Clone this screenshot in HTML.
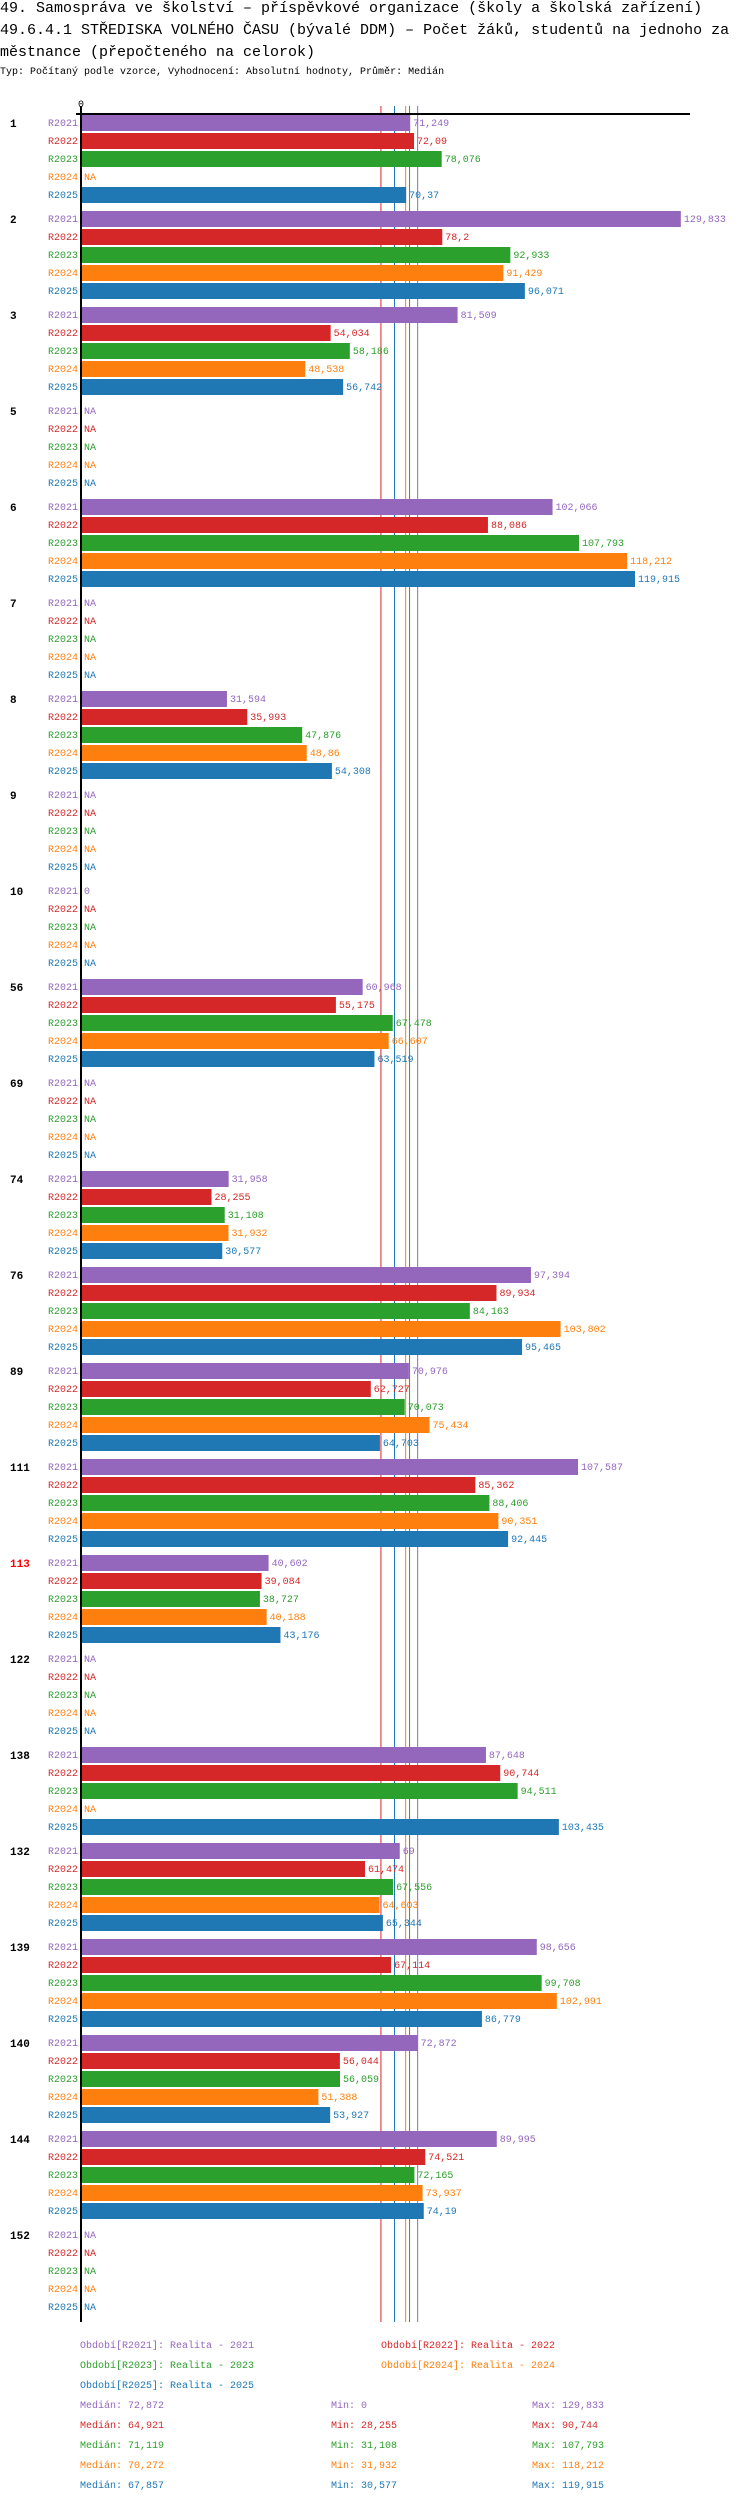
<!DOCTYPE html>
<html><head><meta charset="utf-8">
<style>
body{margin:0;background:#fff;width:750px;height:2502px;overflow:hidden;font-family:"Liberation Mono","DejaVu Sans Mono",monospace;}
.t{position:absolute;left:0;font-size:15px;color:#000;white-space:nowrap;}
.s{position:absolute;left:0;font-size:10px;color:#000;white-space:nowrap;}
svg{position:absolute;left:0;top:0}
</style></head><body>
<div class="t" style="top:0px">49. Samospráva ve školství – příspěvkové organizace (školy a školská zařízení)</div>
<div class="t" style="top:22px">49.6.4.1 STŘEDISKA VOLNÉHO ČASU (bývalé DDM) – Počet žáků, studentů na jednoho za</div>
<div class="t" style="top:44px">městnance (přepočteného na celorok)</div>
<div class="s" style="top:67px">Typ: Počítaný podle vzorce, Vyhodnocení: Absolutní hodnoty, Průměr: Medián</div>
<svg id="chart" width="750" height="2502" font-family="Liberation Mono, DejaVu Sans Mono, monospace"></svg>
<script>
const categories=["1","2","3","5","6","7","8","9","10","56","69","74","76","89","111","113","122","138","132","139","140","144","152"];
const series=["R2021","R2022","R2023","R2024","R2025"];
const colors=["#9467bd","#d62728","#2ca02c","#ff7f0e","#1f77b4"];
const r2021=[71.249,129.833,81.509,null,102.066,null,31.594,null,0,60.968,null,31.958,97.394,70.976,107.587,40.602,null,87.648,69,98.656,72.872,89.995,null];
const r2022=[72.09,78.2,54.034,null,88.086,null,35.993,null,null,55.175,null,28.255,89.934,62.727,85.362,39.084,null,90.744,61.474,67.114,56.044,74.521,null];
const r2023=[78.076,92.933,58.186,null,107.793,null,47.876,null,null,67.478,null,31.108,84.163,70.073,88.406,38.727,null,94.511,67.556,99.708,56.059,72.165,null];
const r2024=[null,91.429,48.538,null,118.212,null,48.86,null,null,66.607,null,31.932,103.802,75.434,90.351,40.188,null,null,64.603,102.991,51.388,73.937,null];
const r2025=[70.37,96.071,56.742,null,119.915,null,54.308,null,null,63.519,null,30.577,95.465,64.703,92.445,43.176,null,103.435,65.344,86.779,53.927,74.19,null];
const medians=[72.872,64.921,71.119,70.272,67.857];
const mins=[0,28.255,31.108,31.932,30.577];
const maxs=[129.833,90.744,107.793,118.212,119.915];
const highlight="113";
const values=[r2021,r2022,r2023,r2024,r2025];
const NS="http://www.w3.org/2000/svg";
const svg=document.getElementById('chart');
const X0=81,SCALE=4.62,TOP=114,GROUP=96,ROW=18;
const x=v=>X0+v*SCALE;
const gy=g=>TOP+g*GROUP;
const fmt=v=>String(v).replace('.',',');
function mk(tag,attrs,parent){const e=document.createElementNS(NS,tag);for(const k in attrs)e.setAttribute(k,attrs[k]);(parent||svg).appendChild(e);return e;}
function txt(str,attrs){const e=mk('text',attrs);e.textContent=str;return e;}
const endY=gy(categories.length-1)+5*ROW+6;
let e;
medians.forEach((m,i)=>{
  e=mk('line',{x1:x(m),y1:106,x2:x(m),y2:endY,stroke:colors[i],'stroke-width':1});
  
  
});
e=mk('line',{x1:76,y1:TOP,x2:690,y2:TOP,stroke:'#000','stroke-width':2});


e=mk('line',{x1:X0,y1:106,x2:X0,y2:endY,stroke:'#000','stroke-width':2});


e=txt('0',{x:X0,y:107,'font-size':10,'text-anchor':'middle',fill:'#000'});


categories.forEach((c,g)=>{
  const top=gy(g);
  e=txt(c,{x:10,y:top+13,'font-size':11,'font-weight':'bold',fill:c===highlight?'#ff0000':'#000'});
  
  
  series.forEach((s,i)=>{
    const ry=top+i*ROW;
    e=txt(s,{x:78,y:ry+12,'font-size':10,'text-anchor':'end',fill:colors[i]});
    
    
    const v=values[i][g];
    if(v===null){
      e=txt('NA',{x:84,y:ry+12,'font-size':10,fill:colors[i]});
      
      
    }else{
      e=mk('rect',{x:X0+1,y:ry+1,width:Math.max(0,x(v)-X0-1),height:16,fill:colors[i]});
      
      
      e=txt(fmt(v),{x:x(v)+3,y:ry+12,'font-size':10,fill:colors[i]});
      
      
    }
  });
});
const legY=2344;
const legPos=[[80,legY],[381,legY],[80,legY+20],[381,legY+20],[80,legY+40]];
series.forEach((s,i)=>{
  e=txt('Období['+s+']: Realita - '+s.slice(1),{x:legPos[i][0],y:legPos[i][1]+4,'font-size':10,fill:colors[i]});
  
  
  const y=legY+60+i*20+4;
  e=txt('Medián: '+fmt(medians[i]),{x:80,y:y,'font-size':10,fill:colors[i]});
  
  
  e=txt('Min: '+fmt(mins[i]),{x:331,y:y,'font-size':10,fill:colors[i]});
  
  
  e=txt('Max: '+fmt(maxs[i]),{x:532,y:y,'font-size':10,fill:colors[i]});
  
  
});
</script>
</body></html>
